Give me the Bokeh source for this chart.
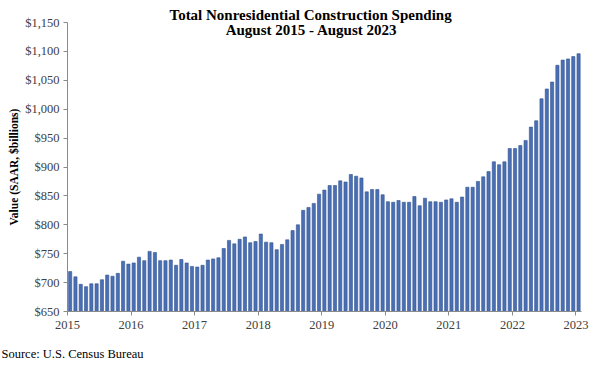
from bokeh.plotting import figure
from bokeh.models import ColumnDataSource, Label, FixedTicker, NumeralTickFormatter, Range1d, Title
from bokeh.embed import file_html
from bokeh.resources import INLINE

# Monthly values, Aug 2015 - Aug 2023 (SAAR, $ billions)
values = [
    719, 710, 697, 693, 698, 698, 705, 713, 711, 716, 737, 732,   # Aug15-Jul16
    734, 744, 738, 754, 752, 738, 738, 739, 730, 740, 734, 728,   # Aug16-Jul17
    727, 730, 739, 741, 743, 759, 773, 767, 775, 779, 769, 771,   # Aug17-Jul18
    784, 770, 769, 757, 766, 774, 790, 800, 825, 830, 837, 853,   # Aug18-Jul19
    860, 868, 868, 876, 874, 887, 884, 881, 857, 861, 861, 852,   # Aug19-Jul20
    840, 839, 842, 839, 839, 849, 833, 846, 840, 840, 839, 843,   # Aug20-Jul21
    845, 839, 848, 865, 865, 875, 883, 892, 909, 904, 909, 932,   # Aug21-Jul22
    932, 937, 946, 969, 980, 1018, 1035, 1047, 1076, 1085, 1087, 1091,  # Aug22-Jul23
    1096,                                                          # Aug23
]
year_labels = ["2015", "2016", "2017", "2018", "2019", "2020", "2021", "2022", "2023"]
y_ticks = [650, 700, 750, 800, 850, 900, 950, 1000, 1050, 1100, 1150]
title_lines = ["Total Nonresidential Construction Spending", "August 2015 - August 2023"]
source_note = "Source:  U.S. Census Bureau"

idx = list(range(len(values)))
src = ColumnDataSource(dict(x=idx, top=values))

FONT = "Liberation Serif"

p = figure(width=600, height=374, output_backend="svg", toolbar_location=None,
           x_range=Range1d(-0.5, 96.55), y_range=Range1d(650, 1150),
           min_border_left=67, min_border_right=19, min_border_top=22, min_border_bottom=62)
p.outline_line_color = None
p.xgrid.visible = False
p.ygrid.visible = False
p.background_fill_color = "white"
p.border_fill_color = "white"

p.vbar(x="x", top="top", bottom=650, width=0.6, source=src,
       fill_color="#4a6fb5", line_color="#33548f", line_width=0.6)

# x axis: a tick every 12 months, at category boundaries
xt = [12 * k - 0.5 for k in range(len(year_labels))]
p.xaxis.ticker = FixedTicker(ticks=xt)
p.xaxis.major_label_overrides = {t: lab for t, lab in zip(xt, year_labels)}
p.xaxis.minor_tick_line_color = None
p.xaxis.major_tick_in = 0
p.xaxis.major_tick_out = 4
p.xaxis.axis_line_color = "#8a8a8a"
p.xaxis.major_tick_line_color = "#8a8a8a"
p.xaxis.major_label_text_font = FONT
p.xaxis.major_label_text_font_size = "12.5px"
p.xaxis.major_label_text_color = "#404040"
p.xaxis.major_label_standoff = 5

p.yaxis.ticker = FixedTicker(ticks=y_ticks)
p.yaxis.formatter = NumeralTickFormatter(format="$0,0")
p.yaxis.minor_tick_line_color = None
p.yaxis.major_tick_in = 0
p.yaxis.major_tick_out = 4
p.yaxis.axis_line_color = "#8a8a8a"
p.yaxis.major_tick_line_color = "#8a8a8a"
p.yaxis.major_label_text_font = FONT
p.yaxis.major_label_text_font_size = "12.5px"
p.yaxis.major_label_text_color = "#404040"
p.yaxis.major_label_standoff = 4
p.yaxis.axis_label = "Value (SAAR, $billions)"
p.yaxis.axis_label_text_font = FONT
p.yaxis.axis_label_text_font_style = "bold"
p.yaxis.axis_label_text_font_size = "11.5px"
p.yaxis.axis_label_text_color = "#000000"
p.yaxis.axis_label_standoff = 2

# Title line 1 as the plot title, line 2 as a label inside the top of the frame
p.title.text = title_lines[0]
p.title.text_font = FONT
p.title.text_font_style = "bold"
p.title.text_font_size = "15px"
p.title.text_color = "#000000"
p.title.align = "left"
p.title.offset = 102
p.title.standoff = 0

p.add_layout(Label(x=311, y=29.5, x_units="canvas", y_units="canvas", text=title_lines[1],
                   text_font=FONT, text_font_style="bold", text_font_size="15px",
                   text_align="center", text_baseline="middle", text_color="#000000"))

# Source note below the axis
p.add_layout(Title(text=source_note, align="left", offset=-66, standoff=27,
                   vertical_align="bottom",
                   text_font=FONT, text_font_style="normal", text_font_size="12.5px",
                   text_color="#000000"), "below")

open("out.html", "w").write(file_html(p, INLINE))
